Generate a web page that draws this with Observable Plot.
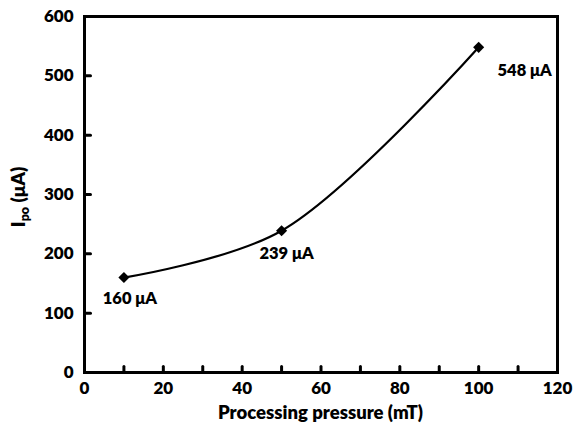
<!DOCTYPE html>
<html>
<head>
<meta charset="utf-8">
<script src="https://cdn.jsdelivr.net/npm/d3@7"></script>
<script src="https://cdn.jsdelivr.net/npm/@observablehq/plot@0.6"></script>
<style>
  html, body { margin: 0; padding: 0; background: #fff; }
</style>
</head>
<body>
<div id="chart"></div>
<script>
const pressure = [10, 50, 100];
const current = [160, 239, 548];
const labels = ["160 μA", "239 μA", "548 μA"];
const xTicks = [0, 10, 20, 30, 40, 50, 60, 70, 80, 90, 100, 110, 120];
const yTicks = [0, 100, 200, 300, 400, 500, 600];

const data = pressure.map((p, i) => ({p, c: current[i], label: labels[i]}));
const labelDx = [6, 5, 46];
const labelDy = [21, 23, 23];

const tickShape = {draw(context, l) { context.moveTo(0, 0); context.lineTo(0, -l); }};
const W = 800;

const chart = Plot.plot({
  width: 574,
  height: 429,
  marginLeft: 84,
  marginRight: 17,
  marginTop: 16,
  marginBottom: 57,
  style: {fontFamily: "Lato", fontWeight: W, fontSize: "17px", color: "#000", background: "#fff"},
  x: {domain: [0, 120]},
  y: {domain: [0, 600]},
  marks: [
    Plot.axisX({ticks: xTicks, tickSize: 0, tickPadding: 9,
      tickFormat: d => d % 20 === 0 ? d : "", fontSize: 17, fontWeight: W, label: null}),
    Plot.axisY({ticks: yTicks, tickSize: 0, tickPadding: 11,
      fontSize: 17, fontWeight: W, label: null}),
    Plot.vector(xTicks, {x: d => d, y: () => 0, length: 6, rotate: 0, anchor: "start",
      shape: tickShape, stroke: "#000", strokeWidth: 3}),
    Plot.vector(yTicks, {x: () => 0, y: d => d, length: 6, rotate: 90, anchor: "start",
      shape: tickShape, stroke: "#000", strokeWidth: 3}),
    Plot.frame({stroke: "#000", strokeWidth: 3}),
    Plot.line(data, {x: "p", y: "c", curve: "catmull-rom", stroke: "#000", strokeWidth: 2.2}),
    Plot.dot(data, {x: "p", y: "c", symbol: "diamond2", r: 5, fill: "#000", stroke: "none"}),
    Plot.text(data, {x: "p", y: "c", text: "label",
      dx: 0, fontSize: 16.5, fontWeight: W, fill: "#000"})
  ]
});

const svg = d3.select(chart);

// per-label offsets
svg.selectAll("g[aria-label='text'] text").each(function(d, i) {
  const t = d3.select(this);
  const tr = t.attr("transform") || "";
  t.attr("transform", tr + ` translate(${labelDx[i]},${labelDy[i]})`);
});

// x-axis title
svg.append("text")
  .attr("x", 320.5).attr("y", 419)
  .attr("text-anchor", "middle")
  .attr("font-family", "Lato").attr("font-weight", W).attr("font-size", 18.5)
  .attr("fill", "#000")
  .text("Processing pressure (mT)");

// y-axis title with subscript
const yt = svg.append("text")
  .attr("transform", `translate(25, 197) rotate(-90)`)
  .attr("text-anchor", "middle")
  .attr("font-family", "Lato")
  .attr("font-weight", W)
  .attr("font-size", 19)
  .attr("fill", "#000");
yt.append("tspan").text("I");
yt.append("tspan").attr("font-size", 12.5).attr("dy", 4).text("po");
yt.append("tspan").attr("dy", -4).text(" (μA)");

document.getElementById("chart").appendChild(chart);
</script>
</body>
</html>
